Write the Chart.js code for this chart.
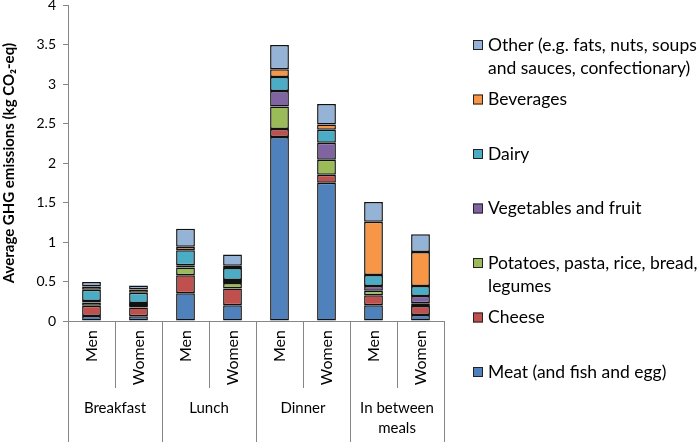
<!DOCTYPE html>
<html>
<head>
<meta charset="utf-8">
<script src="https://cdn.jsdelivr.net/npm/chart.js@4"></script>
<style>
  html, body { margin: 0; padding: 0; background: #fff; }
  #wrap { width: 698px; height: 442px; position: relative; }
</style>
</head>
<body>
<div id="wrap"><canvas id="ghgChart"></canvas></div>
<script>
// bars: sex within each meal
var barLabels = ['Men', 'Women', 'Men', 'Women', 'Men', 'Women', 'Men', 'Women'];
var mealGroups = [['Breakfast'], ['Lunch'], ['Dinner'], ['In between', 'meals']];

// kg CO2-eq per food group
var meat       = [0.063, 0.060, 0.35, 0.20, 2.33, 1.75, 0.20, 0.076];
var cheese     = [0.13, 0.11, 0.23, 0.21, 0.10, 0.10, 0.126, 0.114];
var potatoes   = [0.042, 0.020, 0.097, 0.072, 0.285, 0.19, 0.058, 0.034];
var vegetables = [0.017, 0.038, 0.030, 0.038, 0.195, 0.215, 0.059, 0.092];
var dairy      = [0.144, 0.13, 0.19, 0.15, 0.18, 0.165, 0.139, 0.126];
var beverages  = [0.042, 0.042, 0.042, 0.030, 0.097, 0.067, 0.673, 0.43];
var other      = [0.055, 0.050, 0.23, 0.143, 0.307, 0.26, 0.25, 0.227];

var seriesNames = [
    ['Meat (and fish and egg)'],
    ['Cheese'],
    ['Potatoes, pasta, rice, bread,', 'legumes'],
    ['Vegetables and fruit'],
    ['Dairy'],
    ['Beverages'],
    ['Other (e.g. fats, nuts, soups', 'and sauces, confectionary)']
];
var seriesColors = ['#4F81BD', '#C0504D', '#9BBB59', '#8064A2', '#4BACC6', '#F79646', '#95B3D7'];
var seriesData = [meat, cheese, potatoes, vegetables, dairy, beverages, other];

var FONT = 'Lato, Carlito, Calibri, "Open Sans", sans-serif';
var AXIS_GREY = '#868686';
Chart.defaults.font.family = FONT;
Chart.defaults.color = '#000';

var datasets = seriesData.map(function(d, i) {
    return {
        label: seriesNames[i].join(' '),
        data: d,
        backgroundColor: seriesColors[i],
        borderColor: '#111',
        borderWidth: 1.5,
        borderSkipped: false,
        barPercentage: 0.4,
        categoryPercentage: 1.0
    };
});

// meal group labels + separators under the Men/Women labels
var groupAxis = {
    id: 'groupAxis',
    afterDraw: function(chart) {
        var ctx = chart.ctx;
        var xs = chart.scales.x;
        var area = chart.chartArea;
        var n = barLabels.length;
        var step = (area.right - area.left) / n;
        ctx.save();
        ctx.strokeStyle = AXIS_GREY;
        ctx.lineWidth = 1;
        for (var i = 0; i <= n; i++) {
            var x = Math.round(xs.getPixelForValue(Math.min(i, n - 1)) + (i === n ? step / 2 : -step / 2)) + 0.5;
            var yEnd = (i % 2 === 0) ? chart.height : area.bottom + 67;
            ctx.beginPath();
            ctx.moveTo(x, area.bottom);
            ctx.lineTo(x, yEnd);
            ctx.stroke();
        }
        ctx.fillStyle = '#000';
        ctx.font = '15px ' + FONT;
        ctx.textAlign = 'center';
        ctx.textBaseline = 'middle';
        mealGroups.forEach(function(lines, g) {
            var cx = (xs.getPixelForValue(g * 2) + xs.getPixelForValue(g * 2 + 1)) / 2;
            lines.forEach(function(t, k) {
                ctx.fillText(t, cx, area.bottom + 87 + k * 20);
            });
        });
        ctx.restore();
    }
};

// legend on the right, top entry = top of stack
var sideLegend = {
    id: 'sideLegend',
    afterDraw: function(chart) {
        var ctx = chart.ctx;
        var x0 = 473, y0 = 45, slot = 54.5, lineH = 23;
        ctx.save();
        ctx.font = '17.5px ' + FONT;
        ctx.textBaseline = 'middle';
        ctx.textAlign = 'left';
        for (var k = 0; k < seriesNames.length; k++) {
            var i = seriesNames.length - 1 - k;
            var y = y0 + k * slot;
            ctx.fillStyle = seriesColors[i];
            ctx.fillRect(x0, y - 5, 10, 10);
            ctx.strokeStyle = '#222';
            ctx.lineWidth = 1;
            ctx.strokeRect(x0 + 0.5, y - 4.5, 9, 9);
            ctx.fillStyle = '#000';
            seriesNames[i].forEach(function(t, j) {
                ctx.fillText(t, x0 + 15, y + j * lineH);
            });
        }
        ctx.restore();
    }
};

new Chart(document.getElementById('ghgChart'), {
    type: 'bar',
    data: { labels: barLabels, datasets: datasets },
    plugins: [groupAxis, sideLegend],
    options: {
        responsive: true,
        maintainAspectRatio: false,
        animation: false,
        layout: { padding: { top: 5, right: 254, left: 0, bottom: 0 } },
        plugins: {
            legend: { display: false },
            tooltip: { enabled: false }
        },
        scales: {
            x: {
                stacked: true,
                grid: { display: false, drawTicks: false },
                border: { display: true, color: AXIS_GREY },
                ticks: {
                    autoSkip: false,
                    minRotation: 90,
                    maxRotation: 90,
                    padding: 9,
                    color: '#000',
                    font: { size: 16 }
                },
                afterFit: function(s) { s.height = 121; }
            },
            y: {
                stacked: true,
                min: 0,
                max: 4,
                ticks: {
                    stepSize: 0.5,
                    padding: 7,
                    color: '#000',
                    font: { size: 14 },
                    callback: function(v) { return String(v); }
                },
                grid: { drawOnChartArea: false, tickLength: 5, color: AXIS_GREY },
                border: { color: AXIS_GREY },
                title: {
                    display: true,
                    text: 'Average GHG emissions (kg CO\u2082-eq)',
                    color: '#000',
                    font: { size: 15, weight: 'bold' },
                    padding: { top: 0, bottom: 0 }
                },
                afterFit: function(s) {
                    s.width = 68;
                    s.paddingTop = 0;
                }
            }
        }
    }
});
</script>
</body>
</html>
